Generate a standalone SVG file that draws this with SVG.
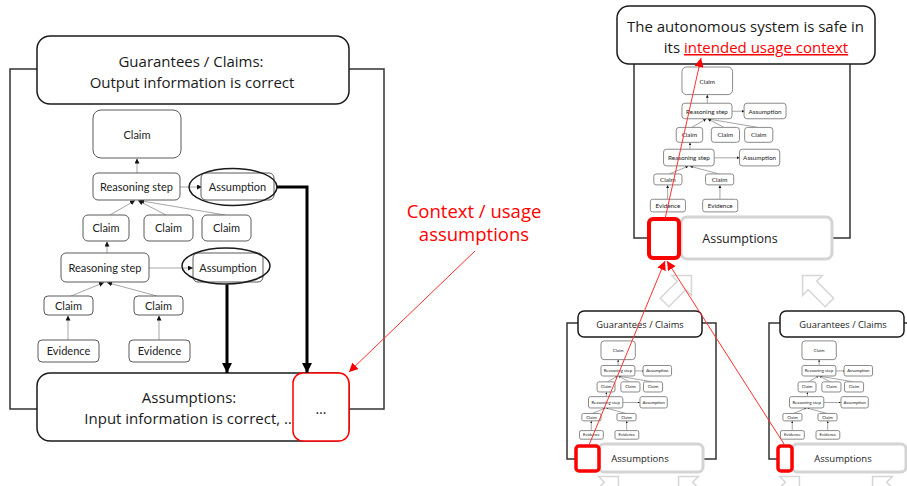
<svg xmlns="http://www.w3.org/2000/svg" xmlns:xlink="http://www.w3.org/1999/xlink" width="907" height="486" viewBox="0 0 907 486">
<style>
.frame{fill:none;stroke:#333;stroke-width:1.5}
.big{fill:#fff;stroke:#1a1a1a;stroke-width:1.5}
.t{font-family:"Open Sans","Noto Sans",sans-serif;fill:#1a1a1a;text-anchor:middle}
.red{fill:#ff0000}
.tb{fill:#fff;vector-effect:non-scaling-stroke;stroke-width:1}
.tl{font-family:Lato,"Liberation Sans",sans-serif;font-size:11px;text-anchor:middle;fill:#222;stroke:none}
.tc{stroke:#a6a6a6;stroke-width:1;fill:none;vector-effect:non-scaling-stroke;marker-end:url(#sa)}
.thick{stroke:#000;stroke-width:3;fill:none;marker-end:url(#ta)}
.rl{stroke:#ff3030;stroke-width:1;fill:none;marker-end:url(#ra)}
.rbox{fill:#fff;stroke:#ff0000}
.gbox{fill:#fff;stroke:#d4d4d4;stroke-width:3}
.blk{fill:#fff;stroke:#d6d6d6;stroke-width:1.5}
</style>
<defs>
<marker id="sa" viewBox="0 0 10 10" refX="10" refY="5" markerWidth="5" markerHeight="5" markerUnits="userSpaceOnUse" orient="auto"><path d="M0,0L10,5L0,10z" fill="#111"/></marker>
<marker id="ta" viewBox="0 0 10 10" refX="10" refY="5" markerWidth="10" markerHeight="10" markerUnits="userSpaceOnUse" orient="auto"><path d="M0,0L10,5L0,10z" fill="#000"/></marker>
<marker id="ra" viewBox="0 0 10 10" refX="10" refY="5" markerWidth="9" markerHeight="9" markerUnits="userSpaceOnUse" orient="auto"><path d="M0,0L10,5L0,10z" fill="#ff0000"/></marker>
<path id="blockArrow" d="M0,-19 L14,-5 L6,-5 L6,19 L-6,19 L-6,-5 L-14,-5Z"/>
</defs>

<!-- Left frames -->
<rect id="left-frame" class="frame" x="10" y="69" width="374" height="340"/>

<g id="left-tree-wrap" stroke="#5a5a5a">
<g id="tree">
  <g id="tree-links">
    <line class="tc" x1="137" y1="173" x2="137" y2="158.5"/>
    <line class="tc" x1="110" y1="215" x2="135" y2="200.5"/>
    <line class="tc" x1="166" y1="215" x2="138" y2="200.5"/>
    <line class="tc" x1="225" y1="215" x2="139" y2="200.5"/>
    <line class="tc" x1="180" y1="187" x2="202" y2="187"/>
    <line class="tc" x1="107" y1="253" x2="107" y2="241.5"/>
    <line class="tc" x1="71" y1="296" x2="104" y2="282.5"/>
    <line class="tc" x1="157" y1="296" x2="107" y2="282.5"/>
    <line class="tc" x1="149" y1="268" x2="193" y2="268"/>
    <line class="tc" x1="68" y1="340" x2="68" y2="315.5"/>
    <line class="tc" x1="159" y1="340" x2="159" y2="315.5"/>
  </g>
  <g id="n-claim"><rect class="tb" x="93" y="110" width="88" height="48" rx="8"/><text class="tl" x="137" y="139">Claim</text></g>
  <g id="n-rs1"><rect class="tb" x="93" y="173" width="87" height="27" rx="5"/><text class="tl" x="136.5" y="191">Reasoning step</text></g>
  <g id="n-a1"><rect class="tb" x="201" y="173" width="73" height="27" rx="5"/><text class="tl" x="237.5" y="191">Assumption</text></g>
  <g id="n-c1"><rect class="tb" x="83" y="215" width="46" height="26" rx="5"/><text class="tl" x="106" y="232">Claim</text></g>
  <g id="n-c2"><rect class="tb" x="144" y="215" width="49" height="26" rx="5"/><text class="tl" x="168.5" y="232">Claim</text></g>
  <g id="n-c3"><rect class="tb" x="202" y="215" width="49" height="26" rx="5"/><text class="tl" x="226.5" y="232">Claim</text></g>
  <g id="n-rs2"><rect class="tb" x="61" y="253" width="88" height="29" rx="5"/><text class="tl" x="105" y="272">Reasoning step</text></g>
  <g id="n-a2"><rect class="tb" x="193" y="253" width="70" height="29" rx="5"/><text class="tl" x="228" y="272">Assumption</text></g>
  <g id="n-c4"><rect class="tb" x="44" y="296" width="49" height="19" rx="4"/><text class="tl" x="68.5" y="310">Claim</text></g>
  <g id="n-c5"><rect class="tb" x="134" y="296" width="49" height="19" rx="4"/><text class="tl" x="158.5" y="310">Claim</text></g>
  <g id="n-e1"><rect class="tb" x="38" y="340" width="61" height="22" rx="4"/><text class="tl" x="68.5" y="355">Evidence</text></g>
  <g id="n-e2"><rect class="tb" x="129" y="340" width="61" height="22" rx="4"/><text class="tl" x="159.5" y="355">Evidence</text></g>
</g>
</g>

<g id="highlights" fill="none" stroke="#1a1a1a" stroke-width="1.5">
  <ellipse cx="233" cy="187" rx="44" ry="18.5"/>
  <ellipse cx="226" cy="266" rx="44" ry="18"/>
</g>

<g id="guarantees-left">
  <rect class="big" x="37" y="36" width="312" height="68" rx="13"/>
  <text class="t" x="191" y="67" font-size="15">Guarantees / Claims:</text>
  <text class="t" x="192" y="88" font-size="15">Output information is correct</text>
</g>

<g id="assumptions-left">
  <rect class="big" x="37" y="373" width="312" height="68" rx="13"/>
  <text class="t" x="189" y="403" font-size="15">Assumptions:</text>
  <text class="t" x="190" y="424" font-size="15">Input information is correct, …</text>
</g>
<g id="assumptions-more">
  <rect class="rbox" stroke-width="1.5" x="293" y="373" width="56" height="68" rx="10"/>
  <text class="t" x="321" y="414" font-size="14">…</text>
</g>

<g id="context-label">
  <text class="t red" x="474" y="218" font-size="18.5">Context / usage</text>
  <text class="t red" x="474" y="241" font-size="18.5">assumptions</text>
</g>

<!-- Top-right module -->
<rect id="tr-frame" class="frame" x="634" y="50" width="216" height="188"/>
<use href="#tree" xlink:href="#tree" transform="translate(628.5,3.75) scale(0.575)" stroke="#8a8a8a"/>
<g id="tr-goal">
  <rect class="big" x="617" y="6" width="258" height="58" rx="12"/>
  <text class="t" x="745.5" y="32" font-size="15">The autonomous system is safe in</text>
  <text class="t" x="756" y="53" font-size="15">its <tspan class="red" text-decoration="underline">intended usage context</tspan></text>
</g>
<g id="tr-assumptions">
  <rect class="gbox" x="681" y="217" width="151" height="42" rx="6"/>
  <text class="t" x="740" y="243" font-size="12.5">Assumptions</text>
</g>
<rect id="tr-red" class="rbox" stroke-width="4" x="649" y="219" width="30" height="39" rx="4"/>

<g id="block-arrows">
  <use href="#blockArrow" xlink:href="#blockArrow" class="blk" transform="translate(678,289) rotate(45)"/>
  <use href="#blockArrow" xlink:href="#blockArrow" class="blk" transform="translate(816,289) rotate(-45)"/>
  <use href="#blockArrow" xlink:href="#blockArrow" class="blk" transform="translate(605,490) rotate(45)"/>
  <use href="#blockArrow" xlink:href="#blockArrow" class="blk" transform="translate(692,490) rotate(-45)"/>
  <use href="#blockArrow" xlink:href="#blockArrow" class="blk" transform="translate(786,490) rotate(45)"/>
  <use href="#blockArrow" xlink:href="#blockArrow" class="blk" transform="translate(886,490) rotate(-45)"/>
</g>

<!-- Lower-left module -->
<rect id="ll-frame" class="frame" x="567" y="323" width="149" height="136"/>
<use href="#tree" xlink:href="#tree" transform="translate(564.7,298) scale(0.39)" stroke="#8a8a8a"/>
<g id="ll-guarantees">
  <rect class="big" stroke-width="1.3" x="578" y="311" width="124" height="26" rx="6"/>
  <text class="t" x="640" y="327.5" font-size="9.3">Guarantees / Claims</text>
</g>
<g id="ll-assumptions">
  <rect class="gbox" x="599" y="444" width="104" height="28" rx="5"/>
  <text class="t" x="640" y="461.5" font-size="9.5">Assumptions</text>
</g>
<rect id="ll-red" class="rbox" stroke-width="3.5" x="576" y="446" width="23" height="25" rx="3"/>

<!-- Lower-right module -->
<rect id="lr-frame" class="frame" x="769" y="323" width="200" height="136"/>
<use href="#tree" xlink:href="#tree" transform="translate(765.7,298) scale(0.39)" stroke="#8a8a8a"/>
<g id="lr-guarantees">
  <rect class="big" stroke-width="1.3" x="780" y="311" width="124" height="26" rx="6"/>
  <text class="t" x="843" y="327.5" font-size="9.3">Guarantees / Claims</text>
</g>
<g id="lr-assumptions">
  <rect class="gbox" x="792" y="444" width="114" height="28" rx="5"/>
  <text class="t" x="843" y="461.5" font-size="9.5">Assumptions</text>
</g>
<rect id="lr-red" class="rbox" stroke-width="3.5" x="778" y="446" width="14" height="25" rx="3"/>

<g id="connectors">
  <path class="thick" d="M277,187H307V373"/>
  <path class="thick" d="M227,284.5V373"/>
  <line class="rl" x1="475" y1="251" x2="349" y2="372"/>
  <line class="rl" x1="589" y1="445" x2="665" y2="261"/>
  <line class="rl" x1="784" y1="444" x2="667" y2="261"/>
  <line class="rl" x1="665" y1="219" x2="701" y2="58"/>
</g>
</svg>
